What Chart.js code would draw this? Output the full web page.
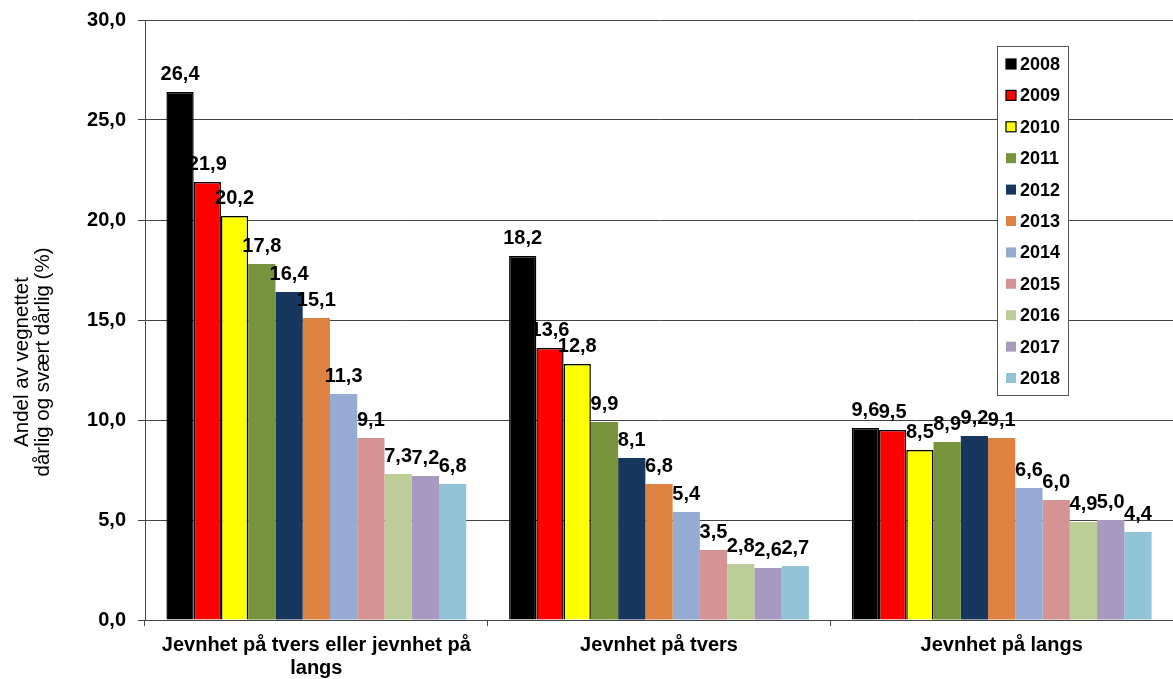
<!DOCTYPE html>
<html>
<head>
<meta charset="utf-8">
<script src="https://cdn.jsdelivr.net/npm/chart.js@4.4.0/dist/chart.umd.min.js"></script>
<style>
html,body{margin:0;padding:0;background:#fff;}
#wrap{width:1173px;height:679px;position:relative;}
</style>
</head>
<body>
<div id="wrap"><canvas id="c" width="1173" height="679"></canvas></div>
<script>
const categories = [["Jevnhet på tvers eller jevnhet på","langs"], "Jevnhet på tvers", "Jevnhet på langs"];
const years = ["2008","2009","2010","2011","2012","2013","2014","2015","2016","2017","2018"];
const v2008 = [26.4, 18.2, 9.6];
const v2009 = [21.9, 13.6, 9.5];
const v2010 = [20.2, 12.8, 8.5];
const v2011 = [17.8, 9.9, 8.9];
const v2012 = [16.4, 8.1, 9.2];
const v2013 = [15.1, 6.8, 9.1];
const v2014 = [11.3, 5.4, 6.6];
const v2015 = [9.1, 3.5, 6.0];
const v2016 = [7.3, 2.8, 4.9];
const v2017 = [7.2, 2.6, 5.0];
const v2018 = [6.8, 2.7, 4.4];
const seriesValues = [v2008, v2009, v2010, v2011, v2012, v2013, v2014, v2015, v2016, v2017, v2018];
const colors = ["#000000","#ff0000","#ffff00","#77933c","#17375e","#dd8240","#95abd3","#d59393","#bbce98","#a899bf","#92c4d6"];
const borders = ["#000000","#000000","#000000","#77933c","#17375e","#dd8240","#95abd3","#d59393","#bbce98","#a899bf","#92c4d6"];
const yTicks = ["0,0","5,0","10,0","15,0","20,0","25,0","30,0"];
const yTitle = ["Andel av vegnettet","dårlig og svært dårlig (%)"];

const FONT = "'Liberation Sans', Arial, sans-serif";

const datasets = years.map((y,i)=>({
  label: y,
  data: seriesValues[i],
  backgroundColor: colors[i],
  borderColor: borders[i],
  borderWidth: i<3 ? 1.5 : 0,
  borderSkipped: 'bottom',
  categoryPercentage: 0.875,
  barPercentage: 1.0
}));

const labelPlugin = {
  id: 'dlabels',
  afterDatasetsDraw(chart){
    const ctx = chart.ctx;
    ctx.save();
    ctx.font = "bold 20px " + FONT;
    ctx.fillStyle = "#000";
    ctx.textAlign = "center";
    ctx.textBaseline = "alphabetic";
    chart.data.datasets.forEach((ds,di)=>{
      const meta = chart.getDatasetMeta(di);
      meta.data.forEach((el,i)=>{
        const txt = ds.data[i].toFixed(1).replace('.',',');
        ctx.fillText(txt, el.x, el.y - 12);
      });
    });
    ctx.restore();
  }
};

const titlePlugin = {
  id: 'ytitle',
  afterDraw(chart){
    const ctx = chart.ctx;
    ctx.save();
    ctx.font = "20.5px " + FONT;
    ctx.fillStyle = "#000";
    ctx.textAlign = "center";
    ctx.textBaseline = "middle";
    const xs = [22, 43];
    yTitle.forEach((t,i)=>{
      ctx.save();
      ctx.translate(xs[i], 362);
      ctx.rotate(-Math.PI/2);
      ctx.fillText(t, 0, 0);
      ctx.restore();
    });
    ctx.restore();
  }
};

const legendPlugin = {
  id: 'boxlegend',
  afterDraw(chart){
    const ctx = chart.ctx;
    ctx.save();
    const x0 = 997, y0 = 46, w = 71, h = 349;
    ctx.fillStyle = "#fff";
    ctx.fillRect(x0, y0, w, h);
    ctx.strokeStyle = "#555";
    ctx.lineWidth = 1;
    ctx.strokeRect(x0+0.5, y0+0.5, w, h);
    ctx.font = "bold 18px " + FONT;
    ctx.textBaseline = "middle";
    ctx.textAlign = "left";
    chart.data.datasets.forEach((ds,i)=>{
      const cy = 64 + i*31.4;
      ctx.fillStyle = ds.backgroundColor;
      ctx.fillRect(1006, cy-5, 10, 10);
      if (i<3){ ctx.strokeStyle="#000"; ctx.lineWidth=1.2; ctx.strokeRect(1006, cy-5, 10, 10); }
      ctx.fillStyle = "#000";
      ctx.fillText(ds.label, 1020, cy+1);
    });
    ctx.restore();
  }
};

new Chart(document.getElementById('c'), {
  type: 'bar',
  data: { labels: categories, datasets },
  plugins: [labelPlugin, legendPlugin, titlePlugin],
  options: {
    responsive: false,
    animation: false,
    layout: { padding: { top: 20, right: 0, left: 0, bottom: 0 } },
    plugins: { legend: { display: false }, tooltip: { enabled: false } },
    scales: {
      x: {
        offset: true,
        grid: { offset: true, drawOnChartArea: false, drawTicks: true, tickLength: 6, color: "#444" },
        border: { color: "#444", width: 1 },
        ticks: { color: "#000", font: { family: FONT, size: 20, weight: 'bold', lineHeight: 1.15 }, padding: 8, maxRotation: 0, autoSkip: false },
        afterFit(s){ s.height = 59; s.paddingLeft = 0; s.paddingRight = 0; }
      },
      y: {
        min: 0, max: 30,
        ticks: { stepSize: 5, color: "#000", padding: 12,
          font: { family: FONT, size: 20, weight: 'bold' },
          callback: (v)=> yTicks[Math.round(v/5)] },
        grid: { color: "#444", tickLength: 7, drawTicks: true },
        border: { color: "#444", width: 1 },
        title: { display: false },
        afterFit(s){ s.width = 145; s.paddingTop = 0; s.paddingBottom = 0; }
      }
    }
  }
});
</script>
</body>
</html>
